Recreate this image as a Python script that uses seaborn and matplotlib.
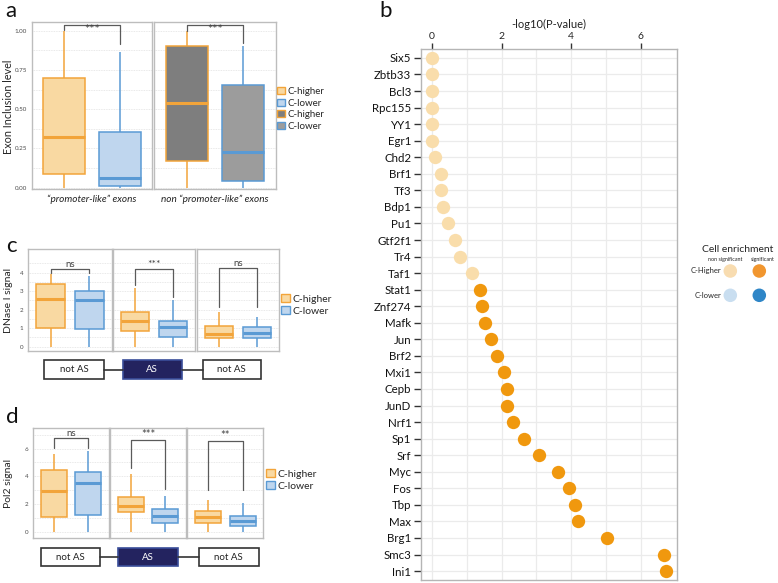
import numpy as np
import pandas as pd
import seaborn as sns
import matplotlib.pyplot as plt
from matplotlib.patches import Patch, Rectangle

W, H = 778, 583

# ---- panel a : five-number summaries [min, q1, median, q3, max]
a_regions = ["\u201cpromoter-like\u201d exons", "non \u201cpromoter-like\u201d exons"]
a_higher = [[0.0, 0.09, 0.32, 0.70, 1.0], [0.0, 0.17, 0.54, 0.905, 1.0]]
a_lower = [[0.0, 0.01, 0.065, 0.355, 0.867], [0.0, 0.04, 0.23, 0.655, 0.90]]
a_signif = ["***", "***"]
a_brackets = [(1.038, 1.006, 0.914), (1.038, 1.0, 0.92)]  # top, left leg end, right leg end

# ---- panel c : DNase I signal
c_regions = ["not AS", "AS", "not AS"]
c_higher = [[0, 1.03, 2.58, 3.37, 3.93], [0, 0.86, 1.39, 1.87, 3.19], [0, 0.49, 0.67, 1.10, 1.88]]
c_lower = [[0, 0.95, 2.52, 3.03, 3.84], [0, 0.54, 1.05, 1.39, 2.52], [0, 0.45, 0.76, 1.07, 1.59]]
c_signif = ["ns", "***", "ns"]
c_brackets = [(4.22, 3.96, 3.96), (4.22, 3.33, 2.7), (4.25, 2.16, 2.16)]

# ---- panel d : Pol2 signal
d_higher = [[0, 1.09, 2.91, 4.44, 5.63], [0, 1.41, 1.87, 2.52, 4.13], [0, 0.66, 1.07, 1.51, 2.31]]
d_lower = [[0, 1.19, 3.50, 4.32, 5.83], [0, 0.66, 1.14, 1.65, 2.55], [0, 0.39, 0.78, 1.12, 2.07]]
d_signif = ["ns", "***", "**"]
d_brackets = [(6.73, 6.07, 6.07), (6.63, 4.62, 3.11), (6.58, 3.04, 3.04)]

# ---- panel b : TF enrichment
tf_names = ["Six5", "Zbtb33", "Bcl3", "Rpc155", "YY1", "Egr1", "Chd2", "Brf1", "Tf3", "Bdp1",
            "Pu1", "Gtf2f1", "Tr4", "Taf1", "Stat1", "Znf274", "Mafk", "Jun", "Brf2", "Mxi1",
            "Cepb", "JunD", "Nrf1", "Sp1", "Srf", "Myc", "Fos", "Tbp", "Max", "Brg1", "Smc3", "Ini1"]
tf_logp = [0, 0, 0, 0, 0, 0, 0.09, 0.26, 0.26, 0.32,
           0.45, 0.67, 0.81, 1.14, 1.39, 1.43, 1.51, 1.69, 1.86, 2.06,
           2.14, 2.15, 2.32, 2.65, 3.06, 3.62, 3.94, 4.10, 4.18, 5.04, 6.66, 6.72]
tf_signif = ["non significant"] * 14 + ["significant"] * 18

ORANGE_EDGE = "#F2A43A"
BLUE_EDGE = "#5A9AD4"
ORANGE_FILL = "#F9D9A2"
BLUE_FILL = "#BFD6EE"
TEXT_GRAY = "#4D4D4D"

sns.set_style("white")
plt.rcParams["font.family"] = ["Lato", "DejaVu Sans"]

fig = plt.figure(figsize=(W / 100, H / 100), dpi=100)


def px_axes(l, r, t, b):
    return fig.add_axes([l / W, 1 - b / H, (r - l) / W, (b - t) / H])


def box_facet(ax, region, hi, lo, fills, bracket, sig, ylim, major, minor,
              show_y, text_below=False, sig_size=6.5):
    df = pd.DataFrame({
        "region": [region] * 10,
        "group": ["C-higher"] * 5 + ["C-lower"] * 5,
        "value": list(hi) + list(lo),
    })
    sns.boxplot(data=df, x="region", y="value", hue="group",
                hue_order=["C-higher", "C-lower"], palette=fills, saturation=1,
                whis=(0, 100), width=0.8, gap=0.25, showcaps=False,
                linewidth=1.1, legend=False, ax=ax)
    for cont, ec in zip(ax.containers, [ORANGE_EDGE, BLUE_EDGE]):
        for b in cont.boxes:
            b.set_edgecolor(ec)
        for ln in cont.whiskers:
            ln.set_color(ec)
        for ln in cont.medians:
            ln.set_color(ec)
            ln.set_linewidth(2.2)
    ax.set_xlim(-0.435, 0.435)
    ax.set_ylim(*ylim)
    ax.set_yticks(major)
    ax.set_yticks(minor, minor=True)
    ax.grid(axis="y", which="both", color="#E2E2E2", lw=0.6, ls=(0, (1, 1)))
    ax.set_axisbelow(True)
    ax.set_xlabel("")
    ax.set_ylabel("")
    for s in ax.spines.values():
        s.set_color("#BDBDBD")
        s.set_linewidth(1.0)
    ax.tick_params(axis="y", which="major", length=2 if show_y else 0, width=0.6,
                   color="#888888", labelsize=4.5, labelcolor=TEXT_GRAY, pad=1.5,
                   labelleft=show_y)
    ax.tick_params(axis="y", which="minor", length=0)
    top, lleg, rleg = bracket
    ax.plot([-0.2, -0.2, 0.2, 0.2], [lleg, top, top, rleg], color="#5A5A5A", lw=0.9,
            clip_on=False)
    if text_below:
        ax.text(0, top - 0.03 * (ylim[1] - ylim[0]), sig, ha="center", va="center",
                fontsize=sig_size, color="#444444")
    else:
        ax.text(0, top, sig, ha="center", va="bottom", fontsize=sig_size, color="#444444")


# ---- panel a
a_fills = [[ORANGE_FILL, BLUE_FILL], ["#7E7E7E", "#9C9C9C"]]
a_pos = [(31.7, 152.3), (153.7, 276.0)]
for i in range(2):
    ax = px_axes(a_pos[i][0], a_pos[i][1], 22, 189)
    box_facet(ax, a_regions[i], a_higher[i], a_lower[i], a_fills[i], a_brackets[i],
              a_signif[i], (-0.008, 1.055), [0, 0.25, 0.5, 0.75, 1.0],
              [0.125, 0.375, 0.625, 0.875], i == 0, text_below=True, sig_size=9)
    if i == 0:
        ax.set_yticklabels(["0.00", "0.25", "0.50", "0.75", "1.00"])
    ax.tick_params(axis="x", length=0, labelsize=7.2, labelcolor="#222222", pad=4)
    for t in ax.get_xticklabels():
        t.set_fontstyle("italic")

a_handles = [Patch(facecolor=ORANGE_FILL, edgecolor=ORANGE_EDGE),
             Patch(facecolor=BLUE_FILL, edgecolor=BLUE_EDGE),
             Patch(facecolor="#7E7E7E", edgecolor=ORANGE_EDGE),
             Patch(facecolor="#9C9C9C", edgecolor=BLUE_EDGE)]
fig.legend(a_handles, ["C-higher", "C-lower", "C-higher", "C-lower"], loc="upper left",
           bbox_to_anchor=(277 / W, 1 - 87 / H), frameon=False, fontsize=7,
           handlelength=0.8, handleheight=0.8, handletextpad=0.25, labelspacing=0.25,
           borderpad=0, borderaxespad=0)

# ---- panel c and d
c_pos = [(28.3, 111.7), (113.3, 194.7), (196.7, 279.3)]
d_pos = [(33.3, 108.7), (110.3, 185.7), (187.3, 263.3)]
for i in range(3):
    ax = px_axes(c_pos[i][0], c_pos[i][1], 249.3, 350.7)
    box_facet(ax, c_regions[i], c_higher[i], c_lower[i], [ORANGE_FILL, BLUE_FILL],
              c_brackets[i], c_signif[i], (-0.22, 5.26), [0, 1, 2, 3, 4],
              [0.5, 1.5, 2.5, 3.5, 4.5], i == 0, sig_size=7 if c_signif[i] == "ns" else 7.5)
    ax.set_xticks([])
    ax = px_axes(d_pos[i][0], d_pos[i][1], 428.3, 538)
    box_facet(ax, c_regions[i], d_higher[i], d_lower[i], [ORANGE_FILL, BLUE_FILL],
              d_brackets[i], d_signif[i], (-0.45, 7.46), [0, 2, 4, 6],
              [1, 3, 5, 7], i == 0, sig_size=7 if d_signif[i] == "ns" else 8)
    ax.set_xticks([])

cd_handles = [Patch(facecolor=ORANGE_FILL, edgecolor=ORANGE_EDGE),
              Patch(facecolor=BLUE_FILL, edgecolor=BLUE_EDGE)]
for x0, y0 in [(281, 294), (266, 469)]:
    fig.legend(cd_handles, ["C-higher", "C-lower"], loc="upper left",
               bbox_to_anchor=(x0 / W, 1 - y0 / H), frameon=False, fontsize=7.5,
               handlelength=0.85, handleheight=0.85, handletextpad=0.25,
               labelspacing=0.2, borderpad=0, borderaxespad=0)

# ---- panel b
axb = px_axes(421, 677, 49, 580)
sns.stripplot(x=tf_logp, y=tf_names, hue=tf_signif, orient="h", jitter=False,
              palette={"non significant": "#F9DDAB", "significant": "#F0980E"},
              size=9.6, linewidth=0, legend=False, ax=axb)
axb.set_ylim(31.54, -0.54)
axb.set_xlim(-0.32, 7.04)
axb.xaxis.tick_top()
axb.xaxis.set_label_position("top")
axb.set_xticks([0, 2, 4, 6])
axb.set_xticks([1, 3, 5], minor=True)
axb.set_xlabel("-log10(P-value)", fontsize=8, labelpad=3, color="#222222")
axb.set_ylabel("")
axb.grid(True, which="both", color="#EBEBEB", lw=0.9)
axb.set_axisbelow(True)
for s in axb.spines.values():
    s.set_color("#B5B5B5")
    s.set_linewidth(1.0)
axb.tick_params(axis="x", which="major", top=True, bottom=False, length=4, width=1,
                color="#333333", labelsize=7.5, pad=1.5)
axb.tick_params(axis="x", which="minor", length=0)
axb.tick_params(axis="y", left=True, length=5, width=1, color="#333333",
                labelsize=8.3, pad=2, labelcolor="#111111")

# ---- overlay for labels, legend of b and the AS diagrams
ov = fig.add_axes([0, 0, 1, 1], zorder=10)
ov.set_xlim(0, W)
ov.set_ylim(H, 0)
ov.axis("off")
ov.patch.set_visible(False)

for letter, x, y in [("a", 5, 17), ("b", 379, 17), ("c", 6, 252), ("d", 6, 423)]:
    ov.text(x, y, letter, fontsize=16, va="baseline", ha="left", color="#111111")

ov.text(9, 107, "Exon Inclusion level", rotation=90, ha="center", va="center", fontsize=7.8)
ov.text(9, 300, "DNase I signal", rotation=90, ha="center", va="center", fontsize=7.5)
ov.text(9, 483, "Pol2 signal", rotation=90, ha="center", va="center", fontsize=7.5)

# AS diagrams
for y0, y1, boxes in [(360, 379, [(44.3, 104.3), (122.7, 181.7), (202.7, 261.0)]),
                      (548, 566, [(40.7, 100.0), (118.3, 178.3), (199.0, 258.7)])]:
    ym = (y0 + y1) / 2
    for (l, r), (nl, nr) in zip(boxes[:-1], boxes[1:]):
        ov.plot([r, nl], [ym, ym], color="#333333", lw=1.2)
    for k, (l, r) in enumerate(boxes):
        is_as = k == 1
        ov.add_patch(Rectangle((l, y0), r - l, y1 - y0, lw=1.2,
                               facecolor="#23235F" if is_as else "white",
                               edgecolor="#3A4E9A" if is_as else "#333333"))
        ov.text((l + r) / 2, ym, "AS" if is_as else "not AS", ha="center", va="center",
                fontsize=7, color="white" if is_as else "#222222")

# legend of panel b
ov.text(738, 249, "Cell enrichment", ha="center", va="center", fontsize=7.5)
ov.text(725.5, 259.5, "non significant", ha="center", va="center", fontsize=3.9)
ov.text(762.5, 259.5, "significant", ha="center", va="center", fontsize=3.9)
ov.text(721, 271, "C-Higher", ha="right", va="center", fontsize=5.5)
ov.text(721, 295, "C-lower", ha="right", va="center", fontsize=5.5)
ov.scatter([730.3, 759.3, 730.3, 759.3], [271, 271, 295.3, 295.3], s=95, linewidths=0,
           c=["#F8DCB0", "#F1962F", "#C9DEF0", "#2F86C7"])

fig.savefig("out.png", dpi=100)
